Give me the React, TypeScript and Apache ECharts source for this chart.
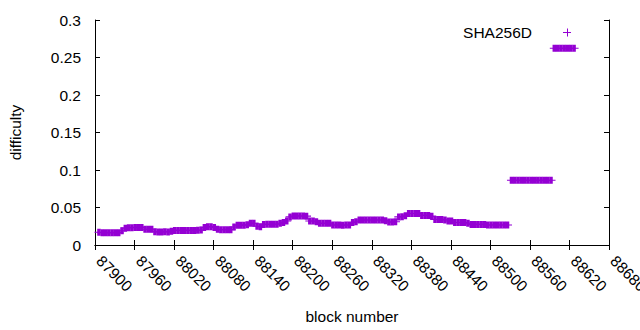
import React, { useEffect, useRef } from "react";
import * as echarts from "echarts";

const seriesName = "SHA256D";
const xTickMin = 87900;
const xTickMax = 88680;
const xTickStep = 60;
const yTickMin = 0;
const yTickMax = 0.3;
const yTickStep = 0.05;

// early period: one reading every 5 blocks
const earlyStart = 87906;
const earlyStep = 5;
const earlyValues = [
  0.017, 0.0165, 0.0163, 0.0163, 0.0163, 0.0163, 0.0165, 0.019, 0.0225, 0.023,
  0.023, 0.0235, 0.0235, 0.0235, 0.021, 0.021, 0.021, 0.0178, 0.0175, 0.0175,
  0.0178, 0.0175, 0.0185, 0.0195, 0.0195, 0.0195, 0.0195, 0.0195, 0.0195, 0.0195,
  0.0198, 0.02, 0.0235, 0.0245, 0.0245, 0.0235, 0.021, 0.0205, 0.0205, 0.0205,
  0.0205, 0.024, 0.0265, 0.0265, 0.0265, 0.027, 0.029, 0.029, 0.025, 0.0245,
  0.0275, 0.0278, 0.0278, 0.0278, 0.0278, 0.029, 0.03, 0.032, 0.0375, 0.0387,
  0.0387, 0.0387, 0.0387, 0.0385, 0.032, 0.032, 0.031, 0.029, 0.029, 0.029,
  0.029, 0.0268, 0.0267, 0.0267, 0.0265, 0.0267, 0.0267, 0.03, 0.031, 0.0333,
  0.0333, 0.0333, 0.0333, 0.0333, 0.0333, 0.0333, 0.0333, 0.0325, 0.0307, 0.0307,
  0.031, 0.0375, 0.0378, 0.039, 0.042, 0.042, 0.042, 0.042, 0.0395, 0.0395,
  0.0395, 0.0385, 0.034, 0.034, 0.034, 0.0335, 0.032, 0.032, 0.03, 0.03,
  0.03, 0.03, 0.029, 0.0275, 0.0275, 0.0275, 0.0275, 0.0275, 0.0267, 0.0267,
  0.0267, 0.0267, 0.0267, 0.0267, 0.0267,
];

const midStart = 88532;
const midStep = 5;
const midValues = [
  0.0863, 0.0863, 0.0863, 0.0863, 0.0863, 0.0863, 0.0863, 0.0863, 0.0863, 0.0863,
  0.0863, 0.0863, 0.0863,
];

const lateStart = 88597;
const lateStep = 5;
const lateValues = [0.2623, 0.2623, 0.2623, 0.2623, 0.2623, 0.2623, 0.2623];

const COLOR = "#9400d3";
const FONT = "Liberation Sans, Arial, sans-serif";
const FS = 15.5;

function toPairs(start: number, step: number, vals: number[]) {
  return vals.map((v, i) => [start + i * step, v]);
}

// plus marker with thick vertical stroke so consecutive points form a solid band
const plusSymbol = "path://M0,3H9V4H0Z M2.75,0H6.25V7H2.75Z";

export default function App() {
  const ref = useRef<HTMLDivElement>(null);
  useEffect(() => {
    if (!ref.current) return;
    const chart = echarts.init(ref.current, null, { renderer: "svg" });
    const data = [
      ...toPairs(earlyStart, earlyStep, earlyValues),
      ...toPairs(midStart, midStep, midValues),
      ...toPairs(lateStart, lateStep, lateValues),
    ];
    const axisLine = { show: true, lineStyle: { color: "#000", width: 1 } };
    const axisTick = { show: true, inside: true, length: 5, lineStyle: { color: "#000", width: 1 } };
    chart.setOption({
      animation: false,
      backgroundColor: "#fff",
      textStyle: { fontFamily: FONT },
      grid: { left: 95, right: 31, top: 20, bottom: 85, containLabel: false, outerBoundsMode: "none" },
      xAxis: [
        {
          type: "value",
          min: xTickMin,
          max: xTickMax,
          interval: xTickStep,
          position: "bottom",
          name: "block number",
          nameLocation: "middle",
          nameGap: 63,
          nameTextStyle: { fontFamily: FONT, fontSize: FS, color: "#000" },
          axisLine,
          axisTick,
          splitLine: { show: false },
          axisLabel: {
            rotate: -45,
            margin: 9,
            padding: [0, 0, 0, 6],
            fontFamily: FONT,
            fontSize: FS,
            color: "#000",
            showMinLabel: true,
            showMaxLabel: true,
            formatter: (v: number) => String(v),
          },
        },
        {
          type: "value",
          min: xTickMin,
          max: xTickMax,
          interval: xTickStep,
          position: "top",
          axisLine,
          axisTick,
          splitLine: { show: false },
          axisLabel: { show: false },
        },
      ],
      yAxis: [
        {
          type: "value",
          min: yTickMin,
          max: yTickMax,
          interval: yTickStep,
          position: "left",
          name: "difficulty",
          nameLocation: "middle",
          nameGap: 72,
          nameTextStyle: { fontFamily: FONT, fontSize: FS, color: "#000" },
          axisLine,
          axisTick,
          splitLine: { show: false },
          axisLabel: { margin: 14, fontFamily: FONT, fontSize: FS, color: "#000" },
        },
        {
          type: "value",
          min: yTickMin,
          max: yTickMax,
          interval: yTickStep,
          position: "right",
          axisLine,
          axisTick,
          splitLine: { show: false },
          axisLabel: { show: false },
        },
      ],
      series: [
        {
          name: seriesName,
          type: "scatter",
          xAxisIndex: 0,
          yAxisIndex: 0,
          data,
          symbol: plusSymbol,
          symbolSize: [9, 7],
          itemStyle: { color: COLOR, opacity: 1 },
          emphasis: { disabled: true },
        },
      ],
      graphic: [
        {
          type: "text",
          x: 532,
          y: 32,
          style: {
            text: seriesName,
            fill: "#000",
            font: `${FS}px ${FONT}`,
            textAlign: "right",
            textVerticalAlign: "middle",
          },
        },
        {
          type: "line",
          shape: { x1: 563, y1: 32.5, x2: 571, y2: 32.5 },
          style: { stroke: COLOR, lineWidth: 1 },
        },
        {
          type: "line",
          shape: { x1: 567.5, y1: 28.5, x2: 567.5, y2: 36.5 },
          style: { stroke: COLOR, lineWidth: 1 },
        },
      ],
    });
    return () => chart.dispose();
  }, []);
  return (
    <div
      ref={ref}
      style={{ position: "fixed", left: 0, top: 0, width: 640, height: 330, background: "#fff" }}
    />
  );
}
